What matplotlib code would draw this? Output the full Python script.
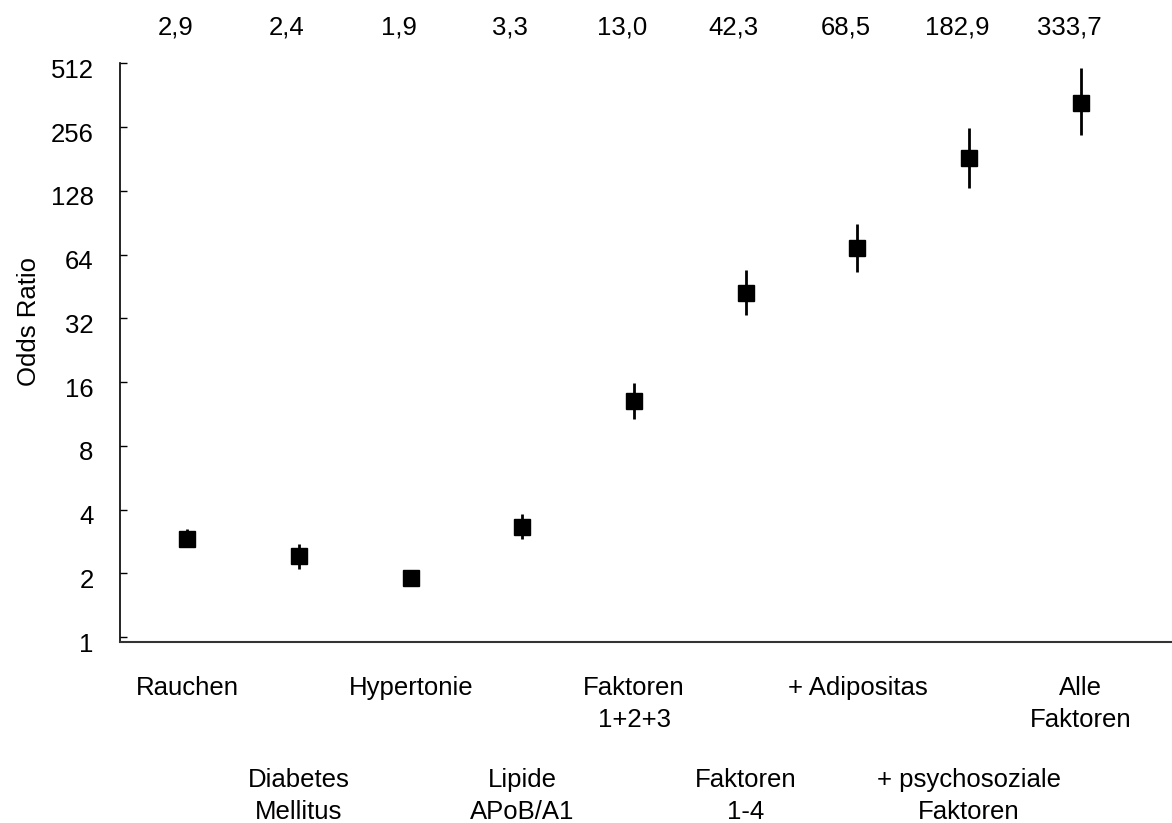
import numpy as np
import matplotlib
matplotlib.use("Agg")
import matplotlib.pyplot as plt
import matplotlib.transforms as mtransforms

plt.rcParams['font.family'] = ['Liberation Sans', 'DejaVu Sans']

# --- data ---
labels = ["Rauchen", "Diabetes\nMellitus", "Hypertonie", "Lipide\nAPoB/A1",
          "Faktoren\n1+2+3", "Faktoren\n1-4", "+ Adipositas",
          "+ psychosoziale\nFaktoren", "Alle\nFaktoren"]
odds = [2.9, 2.4, 1.9, 3.3, 13.0, 42.3, 68.5, 182.9, 333.7]
odds_text = ["2,9", "2,4", "1,9", "3,3", "13,0", "42,3", "68,5", "182,9", "333,7"]
ci_low = [2.65, 2.1, 1.8, 2.9, 10.7, 33.3, 52.7, 132.0, 236.0]
ci_high = [3.23, 2.74, 2.0, 3.8, 15.9, 53.8, 89.0, 253.0, 485.0]
yticks = [1, 2, 4, 8, 16, 32, 64, 128, 256, 512]

FS = 18.5

x = np.arange(len(odds))
odds = np.array(odds)
yerr = np.vstack([odds - np.array(ci_low), np.array(ci_high) - odds])

fig = plt.figure(figsize=(11.72, 8.23), dpi=100)
ax = fig.add_axes([0.1024, 0.2199, 0.8976, 0.7032])

ax.errorbar(x, odds, yerr=yerr, fmt='s', color='black', ms=11,
            elinewidth=2, capsize=0, zorder=3)

ax.set_yscale('log', base=2)
ax.set_ylim(0.947, 512)
ax.set_xlim(-0.603, 8.816)
ax.set_yticks(yticks)
ax.set_yticklabels([str(t) for t in yticks])
ax.minorticks_off()
ax.tick_params(axis='y', direction='in', length=5, width=1, pad=19, labelsize=FS)
# labels sit a few pixels below their ticks in the reference
shift = mtransforms.ScaledTranslation(0, -5 / 100, fig.dpi_scale_trans)
for lab in ax.get_yticklabels():
    lab.set_transform(lab.get_transform() + shift)
ax.set_xticks([])
ax.set_ylabel("Odds Ratio", fontsize=FS, labelpad=7, y=0.553)

for side in ('top', 'right'):
    ax.spines[side].set_visible(False)
ax.spines['left'].set_linewidth(1.2)
ax.spines['bottom'].set_linewidth(1.5)
ax.spines['bottom'].set_color('#333333')

# odds values along the top (slightly left of the markers, as in the reference)
trans_top = mtransforms.blended_transform_factory(ax.transData, fig.transFigure)
left_shift = mtransforms.ScaledTranslation(-12 / 100, 0, fig.dpi_scale_trans)
for xi, t in zip(x, odds_text):
    ax.text(xi, 1 - 27 / 823, t, transform=trans_top + left_shift,
            ha='center', va='center', fontsize=FS)

# category labels in two staggered rows
for xi, lab in zip(x, labels):
    y_top = 676 if xi % 2 == 0 else 768
    ax.text(xi, 1 - y_top / 823, lab, transform=trans_top, ha='center', va='top',
            fontsize=FS, linespacing=1.42)

fig.savefig("out.png", dpi=100, facecolor='white')
